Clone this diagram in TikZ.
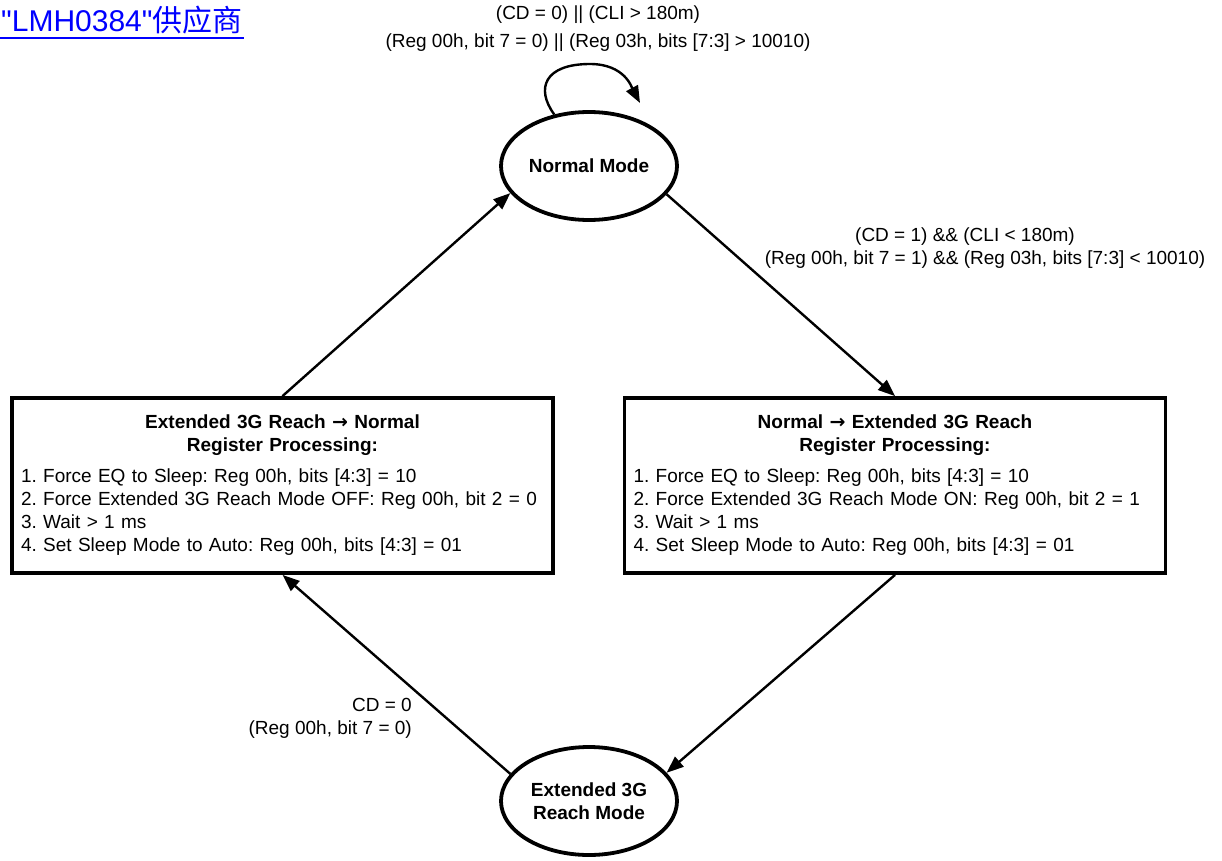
\documentclass[tikz,border=0pt]{standalone}
\usepackage{fontspec}
\setmainfont{Liberation Sans}
\newfontfamily\titlefont{Liberation Sans}[Ligatures=TeXOff]
\newfontfamily\arrowfont{DejaVu Sans}
\newfontfamily\cjk{Noto Sans CJK SC}
\usetikzlibrary{arrows.meta,shapes.geometric}
\frenchspacing

\begin{document}
\begin{tikzpicture}[x=1pt,y=-1pt]
        \useasboundingbox (0,0) rectangle (1222,861);
        \begin{scope}[every node/.style={inner sep=0, font=\fontsize{19}{23}\selectfont},
                state/.style={draw, ellipse, line width=3.8pt, minimum width=176pt, minimum height=108pt, align=center, font=\fontsize{19}{23}\selectfont\bfseries},
                procbox/.style={draw, rectangle, line width=3.8pt, minimum width=541pt, minimum height=175pt, text width=523pt, inner xsep=9pt, align=left},
                lbl/.style={align=center},
                every path/.style={line width=2.4pt, ->, >={Triangle[length=17pt,width=13pt]}}]
                % title
                \node[anchor=west, text=blue, font=\fontsize{30}{32}\titlefont] (title) at (0,20) {"LMH0384"{\cjk 供应商}};
                \draw[-, blue, line width=2.5pt] ([yshift=-3pt]title.south west) -- ([yshift=-3pt]title.south east);

                % states
                \node[state] (NM) at (589,166) {Normal Mode};
                \node[state] (XM) at (589,801) {Extended 3G\\Reach Mode};

                % register processing
                \node[procbox] (NE) at (895,485.5) {{\centering\bfseries Normal {\arrowfont →} Extended 3G Reach\\Register Processing:\par}\vspace{8pt}
                        1. Force EQ to Sleep: Reg 00h, bits [4:3] = 10\\
                        2. Force Extended 3G Reach Mode ON: Reg 00h, bit 2 = 1\\
                        3. Wait > 1 ms\\
                        4. Set Sleep Mode to Auto: Reg 00h, bits [4:3] = 01};
                \node[procbox] (EN) at (282.5,485.5) {{\centering\bfseries Extended 3G Reach {\arrowfont →} Normal\\Register Processing:\par}\vspace{8pt}
                        1. Force EQ to Sleep: Reg 00h, bits [4:3] = 10\\
                        2. Force Extended 3G Reach Mode OFF: Reg 00h, bit 2 = 0\\
                        3. Wait > 1 ms\\
                        4. Set Sleep Mode to Auto: Reg 00h, bits [4:3] = 01};

                % transition labels
                \node[lbl] (LL) at (598,29) {(CD = 0) || (CLI > 180m)\\[5pt](Reg 00h, bit 7 = 0) || (Reg 03h, bits [7:3] > 10010)};
                \node[lbl] (LR) at (985,248) {(CD = 1) \&\& (CLI < 180m)\hspace*{40pt}\\(Reg 00h, bit 7 = 1) \&\& (Reg 03h, bits [7:3] < 10010)};
                \node[lbl, align=right, anchor=east] (LB) at (413,718) {CD = 0\\(Reg 00h, bit 7 = 0)};

                % transitions
                \coordinate (loopTop) at (590,64);
                \coordinate (loopEnd) at (640,103);
                \draw (NM.124) .. controls (535,88) and (545,64) .. (loopTop) .. controls (625,64) and (632,88) .. (loopEnd);
                \path (EN.north) edge (NM.199);
                \path (NM.340) edge (NE.north);
                \path (NE.south) edge (XM.20);
                \path (XM.161) edge (EN.south);
        \end{scope}
\end{tikzpicture}
\end{document}
